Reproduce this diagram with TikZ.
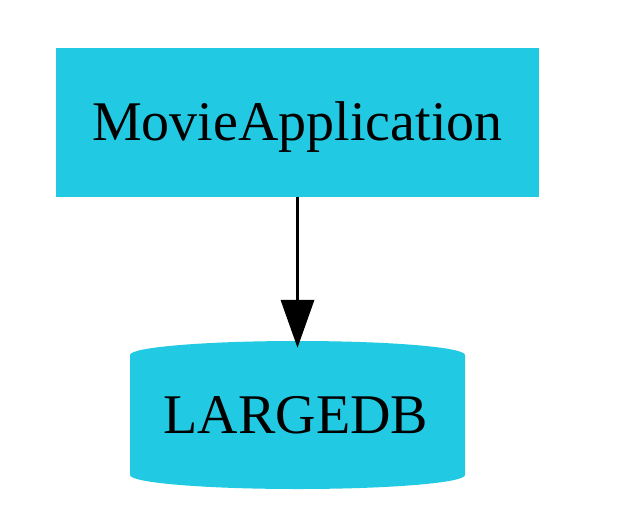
\documentclass[tikz,border=0pt]{standalone}
\usepackage{fontspec}
\setmainfont{Liberation Serif}
\usetikzlibrary{arrows.meta}
\definecolor{nodecyan}{RGB}{34,201,227}
\begin{document}
\begin{tikzpicture}[x=1pt,y=1pt,
  box/.style={fill=nodecyan, draw=none, inner sep=0pt},
  dbarea/.style={draw=none, inner sep=0pt},
  lbl/.style={font=\fontsize{56}{67}\selectfont, anchor=base, inner sep=0pt},
  edge/.style={line width=3.6pt, -{Triangle[length=48pt,width=33pt]}}]
\useasboundingbox (0,0) rectangle (624,-531);
\node[box, minimum width=483pt, minimum height=149pt] (app) at (297.5,-122.5) {};
\node[lbl] (applbl) at (297.5,-140) {MovieApplication};
\fill[nodecyan] (130,-355) arc[start angle=180, end angle=0, x radius=167.5, y radius=14]
  -- (465,-475) arc[start angle=0, end angle=-180, x radius=167.5, y radius=14] -- cycle;
\node[dbarea, minimum width=335pt, minimum height=148pt] (db) at (297.5,-415) {};
\node[lbl] (dblbl) at (296,-433) {LARGEDB};
\draw[edge, shorten >=-7pt] (app.south) -- (db.north);
\end{tikzpicture}
\end{document}
